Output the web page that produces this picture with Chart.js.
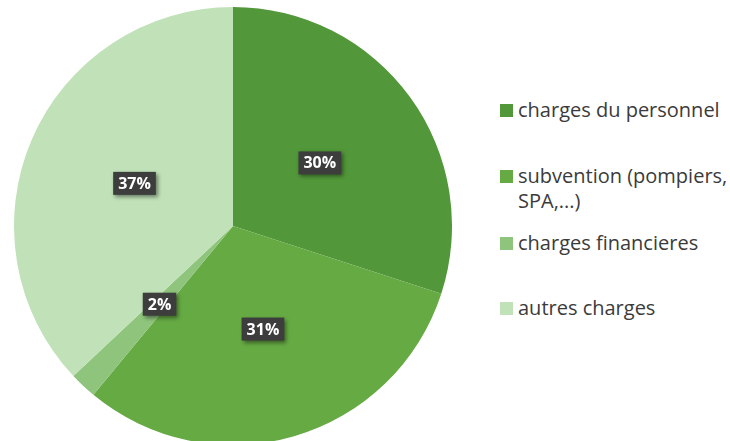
<!DOCTYPE html>
<html>
<head>
<meta charset="utf-8">
<script src="https://cdn.jsdelivr.net/npm/chart.js@4/dist/chart.umd.min.js"></script>
<style>
  html, body { margin: 0; padding: 0; width: 730px; height: 441px; overflow: hidden; background: #ffffff; }
  #pieBox { position: absolute; left: 14px; top: 7px; width: 438px; height: 438px; }
  #legend { position: absolute; left: 500px; top: 0; width: 230px; font-family: "Open Sans", Lato, sans-serif; font-size: 20px; color: #3b3b3b; }
  .item { position: absolute; left: 0; width: 230px; }
  .sw { position: absolute; left: 0; width: 13px; height: 13px; }
  .txt { position: absolute; left: 18px; width: 214px; line-height: 25px; }
</style>
</head>
<body>
<div id="pieBox"><canvas id="chartCharges"></canvas></div>
<div id="legend"></div>
<script>
// Données
var categories = ['charges du personnel', 'subvention (pompiers, SPA,...)', 'charges financieres', 'autres charges'];
var valeurs = [30, 31, 2, 37];
var etiquettes = ['30%', '31%', '2%', '37%'];
var couleurs = ['#52973a', '#66aa44', '#8ec47c', '#c1e2b8'];

// Légende en HTML (positions verticales des lignes)
var legendeY = [104, 170, 237, 302];
var legende = document.getElementById('legend');
categories.forEach(function (cat, i) {
    var item = document.createElement('div');
    item.className = 'item';
    item.style.top = legendeY[i] + 'px';
    var sw = document.createElement('div');
    sw.className = 'sw';
    sw.style.background = couleurs[i];
    var txt = document.createElement('div');
    txt.className = 'txt';
    txt.style.top = '-7px';
    txt.textContent = cat;
    item.appendChild(sw);
    item.appendChild(txt);
    legende.appendChild(item);
});

// Étiquettes de pourcentage dans des boîtes sombres
var boitesPourcentage = {
    id: 'boitesPourcentage',
    afterDatasetsDraw: function (chart) {
        var ctx = chart.ctx;
        var meta = chart.getDatasetMeta(0);
        ctx.save();
        ctx.font = 'bold 16px "Open Sans", Lato, sans-serif';
        ctx.textAlign = 'center';
        ctx.textBaseline = 'middle';
        meta.data.forEach(function (arc, i) {
            var p = arc.getProps(['x', 'y', 'startAngle', 'endAngle', 'outerRadius'], true);
            var mid = (p.startAngle + p.endAngle) / 2;
            var r = p.outerRadius * 0.49;
            var x = p.x + Math.cos(mid) * r;
            var y = p.y + Math.sin(mid) * r;
            var w = ctx.measureText(etiquettes[i]).width + 10;
            var h = 23;
            ctx.shadowColor = 'rgba(0,0,0,0.45)';
            ctx.shadowBlur = 4;
            ctx.shadowOffsetX = 2;
            ctx.shadowOffsetY = 2;
            ctx.fillStyle = '#3d3d3d';
            ctx.fillRect(x - w / 2, y - h / 2, w, h);
            ctx.shadowColor = 'transparent';
            ctx.fillStyle = '#ffffff';
            ctx.fillText(etiquettes[i], x, y + 1);
        });
        ctx.restore();
    }
};

var ctx = document.getElementById('chartCharges').getContext('2d');
var chart = new Chart(ctx, {
    type: 'pie',
    data: {
        labels: categories,
        datasets: [{
            data: valeurs,
            backgroundColor: couleurs,
            borderWidth: 0
        }]
    },
    options: {
        responsive: true,
        maintainAspectRatio: false,
        animation: false,
        layout: { padding: 0 },
        plugins: {
            legend: { display: false },
            tooltip: { enabled: false }
        }
    },
    plugins: [boitesPourcentage]
});
</script>
</body>
</html>
